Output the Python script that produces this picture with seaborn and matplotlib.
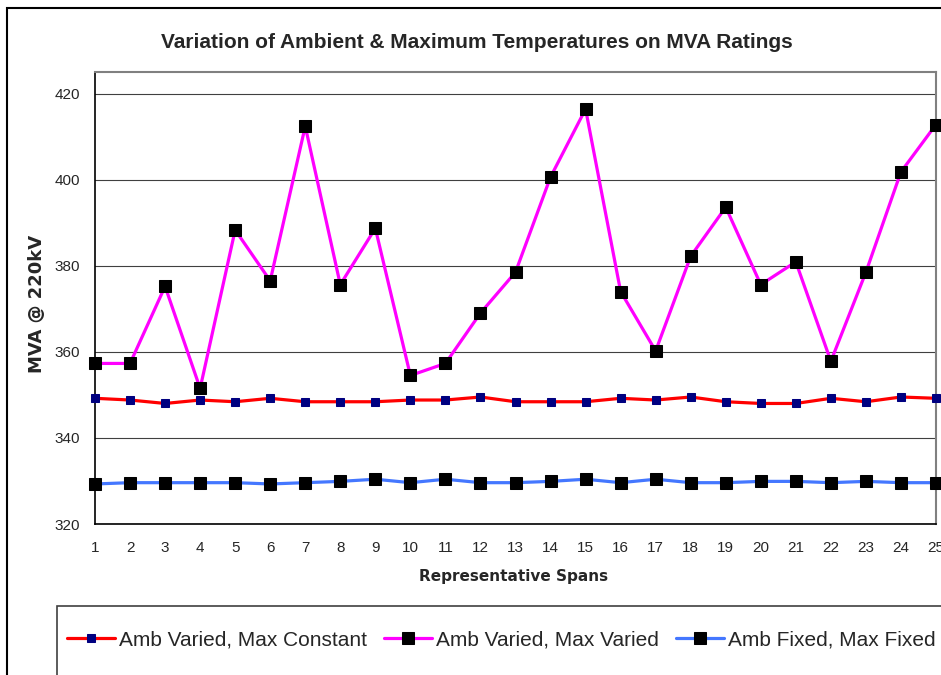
import pandas as pd
import matplotlib
matplotlib.use("Agg")
import matplotlib.pyplot as plt
from matplotlib.patches import Rectangle
import seaborn as sns

# Data
spans = list(range(1, 26))
amb_varied_max_constant = [349.2, 348.8, 348.0, 348.8, 348.4, 349.2, 348.4, 348.4, 348.4, 348.8,
                           348.8, 349.5, 348.4, 348.4, 348.4, 349.2, 348.8, 349.5, 348.4, 348.0,
                           348.0, 349.2, 348.4, 349.5, 349.2]
amb_varied_max_varied = [357.3, 357.3, 375.2, 351.5, 388.3, 376.5, 412.4, 375.6, 388.7, 354.5,
                         357.3, 369.0, 378.5, 400.6, 416.4, 374.0, 360.2, 382.2, 393.6, 375.6,
                         380.9, 357.8, 378.5, 401.8, 412.8]
amb_fixed_max_fixed = [329.3, 329.6, 329.6, 329.6, 329.6, 329.3, 329.6, 329.9, 330.4, 329.6,
                       330.4, 329.6, 329.6, 329.9, 330.4, 329.6, 330.4, 329.6, 329.6, 329.9,
                       329.9, 329.6, 329.9, 329.6, 329.6]
series_names = ["Amb Varied, Max Constant", "Amb Varied, Max Varied", "Amb Fixed, Max Fixed"]
y_ticks = [320, 340, 360, 380, 400, 420]

df = pd.DataFrame({
    "Span": spans * 3,
    "MVA": amb_varied_max_constant + amb_varied_max_varied + amb_fixed_max_fixed,
    "Series": [series_names[0]] * 25 + [series_names[1]] * 25 + [series_names[2]] * 25,
})

sns.set_style("white")
plt.rcParams["font.family"] = ["Liberation Sans", "DejaVu Sans"]

W, H = 941, 675
fig = plt.figure(figsize=(W / 100, H / 100), dpi=100)
ax = fig.add_axes([95 / W, 1 - 524 / H, (936 - 95) / W, (524 - 72) / H])

styles = {
    series_names[0]: dict(color="#FF0000", mfc="#000080", ms=5.5, lw=2.3),
    series_names[1]: dict(color="#FF00FF", mfc="#000000", ms=9, lw=2.3),
    series_names[2]: dict(color="#4477FF", mfc="#000000", ms=8, lw=2.3),
}

for name in series_names:
    st = styles[name]
    sns.lineplot(data=df[df["Series"] == name], x="Span", y="MVA", ax=ax,
                 color=st["color"], linewidth=st["lw"], marker="s",
                 markersize=st["ms"], markerfacecolor=st["mfc"],
                 markeredgecolor=st["mfc"], label=name, clip_on=False, zorder=3)

ax.set_xlim(1, 25)
ax.set_ylim(320, 425)
ax.set_xticks(spans)
ax.set_yticks(y_ticks)
ax.grid(axis="y", color="#404040", linewidth=0.8)
ax.set_axisbelow(True)
ax.set_xlabel("")
ax.set_ylabel("")
ax.tick_params(axis="both", labelsize=11, direction="out", length=4,
               width=0.8, color="black")
ax.tick_params(axis="y", pad=7)
ax.tick_params(axis="x", pad=8)
for side in ["left", "bottom"]:
    ax.spines[side].set_color("black")
    ax.spines[side].set_linewidth(1.2)
for side in ["top", "right"]:
    ax.spines[side].set_color("#808080")
    ax.spines[side].set_linewidth(1.5)

ax.get_legend().remove()

# titles
fig.text(477 / W, 1 - 42 / H, "Variation of Ambient & Maximum Temperatures on MVA Ratings",
         ha="center", va="center", fontsize=15, fontweight="bold")
fig.text(37 / W, 1 - 304 / H, "MVA @ 220kV", rotation=90, ha="center", va="center",
         fontsize=13, fontweight="bold", family=["DejaVu Sans"])
fig.text(514 / W, 1 - 577 / H, "Representative Spans", ha="center", va="center",
         fontsize=11, fontweight="bold", family=["DejaVu Sans"])

# outer chart border and legend box
fig.add_artist(Rectangle((7 / W, -0.1), 1.0, (H - 8) / H + 0.1, transform=fig.transFigure,
                         fill=False, edgecolor="black", linewidth=1.5))
fig.add_artist(Rectangle((57 / W, -0.1), 1.0, (H - 606) / H + 0.1, transform=fig.transFigure,
                         fill=False, edgecolor="#404040", linewidth=1.2))

handles, labels = ax.get_legend_handles_labels()
fig.legend(handles, labels, loc="center left", bbox_to_anchor=(59 / W, 1 - 640 / H),
           ncol=3, frameon=False, fontsize=15, handlelength=2.3, handletextpad=0.2,
           columnspacing=0.8, borderaxespad=0)

fig.savefig("out.png", dpi=100)
